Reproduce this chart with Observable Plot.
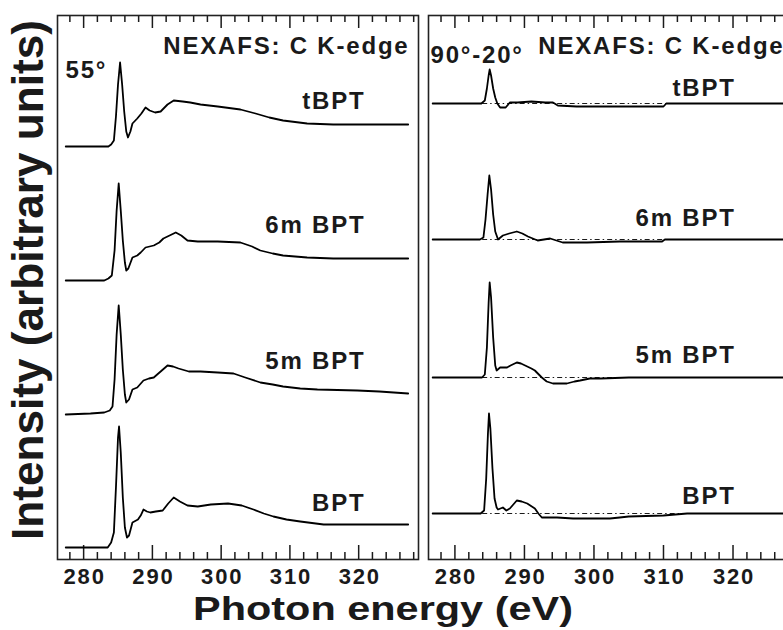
<!DOCTYPE html>
<html><head><meta charset="utf-8">
<script src="https://cdn.jsdelivr.net/npm/d3@7"></script>
<script src="https://cdn.jsdelivr.net/npm/@observablehq/plot@0.6"></script>
<style>
html,body{margin:0;padding:0;background:#fff;overflow:hidden;}
#fig{position:relative;width:783px;height:630px;overflow:hidden;font-family:"Liberation Sans",Arial,sans-serif;}
#fig > svg{position:absolute;overflow:visible;}
</style></head><body><div id="fig"></div>
<script>
// ---------- data ----------
const energyDomain = [276.2, 328.7];
const majorTicks = [280, 290, 300, 310, 320];
const minorTicks = [278, 282, 284, 286, 288, 292, 294, 296, 298, 302, 304, 306, 308, 312, 314, 316, 318, 322, 324, 326, 328];
const seriesNames = ["tBPT", "6m BPT", "5m BPT", "BPT"];
const xAxisLabel = "Photon energy (eV)";
const yAxisLabel = "Intensity (arbitrary units)";
const leftTitles = ["NEXAFS: C K-edge", "55°"];
const rightTitles = ["NEXAFS: C K-edge", "90°-20°"];

// vertical offsets of the stacked spectra (arbitrary units)
const leftOffsets = [401, 267, 133, 0];
const rightOffsets = [410, 274, 136, 0];

// 55° spectra: [energy eV, intensity]
const left_tBPT = [[277.4,0],[283.6,0],[284.0,2],[284.4,6],[284.7,30],[285.0,62],[285.3,84],[285.6,62],[285.9,35],[286.2,15],[286.45,9],[286.8,15],[287.1,23],[287.8,28],[288.4,33],[289.0,39],[289.6,36],[290.4,34],[291.2,35],[292.2,42],[293.1,46],[294.4,45],[295.5,44],[297,42],[299.5,40],[302.8,37],[305,33],[307,29],[309,26],[312.5,23],[316.3,22],[327.2,22]];
const left_6m = [[277.4,0],[283.0,0],[283.6,2],[284.1,5],[284.5,30],[284.8,70],[285.1,97],[285.4,70],[285.7,40],[286.0,18],[286.2,10],[286.5,12],[287.1,23],[287.8,25],[288.3,28],[289.0,33],[290.2,35],[291.0,38],[291.6,42],[292.5,45],[293.4,48],[294.2,45],[295.1,40],[296.6,39],[299.5,39],[302.8,38],[304.5,34],[305.7,30],[307.5,27],[309,25],[312.5,23],[316.3,22],[327.2,22]];
const left_5m = [[277.4,0],[281,1],[283,2],[283.8,4],[284.2,8],[284.5,35],[284.8,80],[285.1,109],[285.4,80],[285.7,45],[286.0,20],[286.2,12],[286.6,15],[287.1,25],[287.8,27],[288.7,34],[289.5,36],[290.2,37],[291.2,43],[292.2,49],[293.0,48],[293.8,46],[295.3,43],[297,43],[299.5,42],[301.8,41],[303.5,37],[305.7,32],[307.5,30],[309,28],[311.5,26],[314,25],[319.8,24],[323,23],[327.2,21]];
const left_BPT = [[277.4,0],[283.5,0],[284.0,5],[284.4,15],[284.7,60],[285.0,110],[285.15,121],[285.4,95],[285.7,50],[286.0,20],[286.3,10],[286.6,12],[287.1,25],[287.9,28],[288.3,32],[288.7,38],[289.2,36],[289.7,35],[290.5,36],[291.5,37],[292.3,44],[293.1,50],[294.0,46],[295.1,42],[296.6,41],[298.5,43],[301,44],[303,42],[304.7,38],[306.2,34],[307.6,31],[309.5,28],[311.5,26],[314.9,23],[327.2,23]];

// 90°-20° difference spectra
const right_tBPT = [[276.8,0],[283.8,0],[284.3,3],[284.6,15],[284.85,28],[285.0,34],[285.2,28],[285.5,15],[285.8,6],[286.1,0],[286.5,-4],[287.3,-4],[287.9,1],[289,1],[291,2],[293,1],[294.1,1],[294.8,-2],[297.5,-3],[305,-3],[310,-3],[310.4,0],[328.5,0]];
const right_6m = [[276.8,0],[283.6,0],[284.1,2],[284.4,20],[284.7,45],[284.95,64],[285.2,50],[285.5,25],[285.8,8],[286.2,0],[286.9,4],[287.8,6],[288.9,8],[289.7,6],[290.5,3],[291.9,-1],[293.7,1],[295.5,-3],[299,-3],[303.7,-2],[309.8,-2],[310.2,0],[328.5,0]];
const right_5m = [[276.8,0],[283.9,0],[284.3,3],[284.6,30],[284.85,75],[285.0,95],[285.2,80],[285.5,40],[285.8,12],[286.0,7],[286.5,10],[287.5,10],[288.0,12],[288.9,15],[289.5,14],[290.1,12],[291.0,9],[291.5,7],[292.5,0],[293.2,-4],[294.1,-6],[296.1,-6],[297.2,-4],[298,-3],[299.4,-1],[301,-1],[305,0],[328.5,0]];
const right_BPT = [[276.8,0],[283.7,0],[284.2,3],[284.5,35],[284.75,80],[284.9,100],[285.1,85],[285.4,45],[285.7,15],[286.0,6],[286.2,4],[286.9,6],[287.4,3],[287.9,5],[288.9,13],[289.6,12],[290.4,10],[291.5,5],[292.0,0],[292.5,-4],[294.7,-4],[297,-5],[302.3,-5],[303.7,-4],[305,-3],[310,-2],[313.4,0],[328.5,0]];

// ---------- drawing ----------
const fig = document.getElementById("fig");
const FRAME_TOP = 15, FRAME_H = 544;
const ink = "#1a1a1a";

function panel({series, offsets, yDomain, frameLeft, frameWidth, labelX, labelLift, titles, titleDx, titleDy, angleDx, angleDy, baselines}) {
  const mL = 10, mR = 10, mT = 2, mB = 45;
  const px = (yDomain[1] - yDomain[0]) / FRAME_H;
  const rows = series.flatMap((s, i) => s.map(([e, v]) => ({name: seriesNames[i], e, v: v + offsets[i]})));
  const lab = seriesNames.map((n, i) => ({n, x: labelX, y: offsets[i] + labelLift[i]}));
  const marks = [];
  if (baselines) {
    marks.push(Plot.ruleY(offsets, {y: d => d, x1: series[0][0][0], x2: energyDomain[1], stroke: ink, strokeWidth: 1, strokeDasharray: "5,3,1.5,3"}));
  }
  marks.push(
    Plot.ruleX(minorTicks, {x: d => d, y1: yDomain[0], y2: yDomain[0] + 7 * px, stroke: ink, strokeWidth: 1.5}),
    Plot.ruleX(majorTicks, {x: d => d, y1: yDomain[0], y2: yDomain[0] + 14 * px, stroke: ink, strokeWidth: 1.5}),
    Plot.ruleX(minorTicks, {x: d => d, y1: yDomain[1], y2: yDomain[1] - 7 * px, stroke: ink, strokeWidth: 1.5}),
    Plot.ruleX(majorTicks, {x: d => d, y1: yDomain[1], y2: yDomain[1] - 13 * px, stroke: ink, strokeWidth: 1.5}),
    Plot.line(rows, {x: "e", y: "v", z: "name", stroke: "black", strokeWidth: 1.8, strokeLinejoin: "round"}),
    Plot.text(majorTicks, {x: d => d, frameAnchor: "bottom", lineAnchor: "top", dy: 9, dx: 1, text: d => String(d), fontSize: 22, fontWeight: "bold", fill: ink}),
    Plot.text(lab, {x: "x", y: "y", text: "n", textAnchor: "end", lineAnchor: "bottom", dx: 2, fontSize: 24, fontWeight: "bold", fill: ink}),
    Plot.text([titles[0]], {frameAnchor: "top-right", textAnchor: "end", lineAnchor: "bottom", dx: titleDx + 1, dy: titleDy, text: d => d, fontSize: 24, fontWeight: "bold", fill: ink}),
    Plot.text([titles[1]], {frameAnchor: "top-left", textAnchor: "start", lineAnchor: "bottom", dx: angleDx, dy: angleDy, text: d => d, fontSize: 24, fontWeight: "bold", fill: ink}),
    Plot.frame({stroke: "#222", strokeWidth: 1.6})
  );
  const svg = Plot.plot({
    width: frameWidth + mL + mR,
    height: FRAME_H + mT + mB,
    marginLeft: mL, marginRight: mR, marginTop: mT, marginBottom: mB,
    x: {domain: energyDomain, axis: null},
    y: {domain: yDomain, axis: null},
    style: {fontFamily: '"Liberation Sans", Arial, sans-serif', background: "transparent", letterSpacing: "1.8px"},
    marks
  });
  svg.style.left = (frameLeft - mL) + "px";
  svg.style.top = (FRAME_TOP - mT) + "px";
  fig.appendChild(svg);
}

panel({
  series: [left_tBPT, left_6m, left_5m, left_BPT],
  offsets: leftOffsets,
  yDomain: [-12, 532],
  frameLeft: 57, frameWidth: 361,
  labelX: 320.7, labelLift: [38, 48, 46, 37],
  titles: leftTitles, titleDx: -10, titleDy: 38, angleDx: 8, angleDy: 62,
  baselines: false
});
panel({
  series: [right_tBPT, right_6m, right_5m, right_BPT],
  offsets: rightOffsets,
  yDomain: [-46, 498],
  frameLeft: 428, frameWidth: 365,
  labelX: 320.1, labelLift: [8, 14, 15, 10],
  titles: rightTitles, titleDx: -10, titleDy: 38, angleDx: 2, angleDy: 47,
  baselines: true
});

// axis titles
const overlay = d3.create("svg").attr("width", 783).attr("height", 630).style("left", "0px").style("top", "0px")
  .style("font-family", '"Liberation Sans", Arial, sans-serif');
overlay.append("text")
  .attr("transform", "translate(43,280) rotate(-90)")
  .attr("text-anchor", "middle").attr("font-size", 44).attr("font-weight", "bold").attr("fill", ink)
  .attr("textLength", 520).attr("lengthAdjust", "spacingAndGlyphs")
  .text(yAxisLabel);
overlay.append("text")
  .attr("x", 383).attr("y", 620)
  .attr("text-anchor", "middle").attr("font-size", 33).attr("font-weight", "bold").attr("fill", ink)
  .attr("textLength", 380).attr("lengthAdjust", "spacingAndGlyphs")
  .text(xAxisLabel);
fig.appendChild(overlay.node());
</script></body></html>
